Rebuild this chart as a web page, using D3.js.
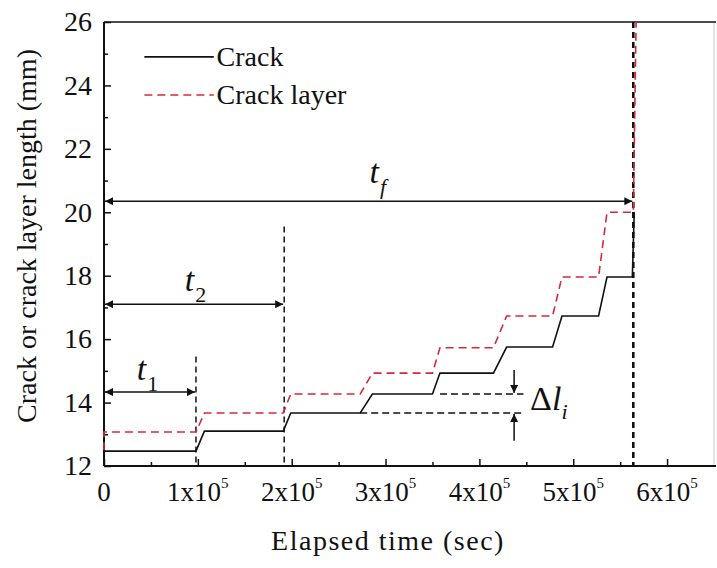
<!DOCTYPE html>
<html>
<head>
<meta charset="utf-8">
<script src="https://cdn.jsdelivr.net/npm/d3@7"></script>
</head>
<body style="margin:0;background:#fff">
<div id="chart"></div>
<script>
// datos (tiempo en unidades de 1e5 s, longitud en mm)
const crackTime = [0, 0.98, 1.07, 1.91, 1.99, 2.73, 2.86, 3.50, 3.58, 4.15, 4.29, 4.78, 4.88, 5.27, 5.36, 5.63, 5.65];
const crackLen  = [12.47, 12.47, 13.10, 13.10, 13.67, 13.67, 14.27, 14.27, 14.93, 14.93, 15.75, 15.75, 16.73, 16.73, 17.96, 17.96, 20.0];

const layerTime = [0, 0, 0.98, 1.07, 1.91, 1.99, 2.73, 2.86, 3.50, 3.58, 4.15, 4.29, 4.78, 4.88, 5.27, 5.36, 5.64, 5.67];
const layerLen  = [12.5, 13.07, 13.07, 13.67, 13.67, 14.27, 14.27, 14.93, 14.93, 15.73, 15.73, 16.73, 16.73, 17.96, 17.96, 20.0, 20.0, 26.0];

const xTicks = [0, 1, 2, 3, 4, 5, 6];
const xMinor = [0.5, 1.5, 2.5, 3.5, 4.5, 5.5];
const yTicks = [12, 14, 16, 18, 20, 22, 24, 26];
const yMinor = [13, 15, 17, 19, 21, 23, 25];

// marcas de tiempo t1, t2, tf
const tMarks = [
  {t: 0.98, top: 15.45, arrowY: 14.33, sub: "1", lx: 0.35, ly: 14.72},
  {t: 1.92, top: 19.55, arrowY: 17.10, sub: "2", lx: 0.86, ly: 17.52},
  {t: 5.64, top: 26.0,  arrowY: 20.35, sub: "f", lx: 2.83, ly: 20.92}
];

// Delta l_i
const deltaUpper = {from: 3.58, to: 4.47, y: 14.27};
const deltaLower = {from: 2.73, to: 4.47, y: 13.67};
const deltaArrowX = 4.37;

const fuente = "'Liberation Serif'";

const margin = {top: 22, right: 3, bottom: 102, left: 104},
  width = 717 - margin.left - margin.right,
  height = 568 - margin.top - margin.bottom;

const svg = d3.select("#chart").append("svg")
  .attr("width", 717).attr("height", 568);

// textos en un grupo aparte, encima de todo
function texto(sel) {
  return sel.attr("font-family", "Liberation Serif")
    .style("font-family", fuente)
    .attr("fill", "#111");
}

const defs = svg.append("defs");
["fin", "ini"].forEach(function (id) {
  defs.append("marker")
    .attr("id", id)
    .attr("viewBox", "0 -5 10 10")
    .attr("refX", 10).attr("refY", 0)
    .attr("markerWidth", 12).attr("markerHeight", 8)
    .attr("markerUnits", "userSpaceOnUse")
    .attr("orient", id === "fin" ? "auto" : "auto-start-reverse")
    .append("path")
    .attr("d", "M0,-5L10,0L0,5Z")
    .attr("fill", "#111");
});

const g = svg.append("g")
  .attr("transform", "translate(" + margin.left + "," + margin.top + ")");

const x = d3.scaleLinear().domain([0, 6.5]).range([0, width]);
const y = d3.scaleLinear().domain([12, 26]).range([height, 0]);

// marco: borde derecho gris y linea superior
g.append("line")
  .attr("x1", width).attr("x2", width).attr("y1", 0).attr("y2", height)
  .attr("stroke", "#ccc").attr("stroke-width", 1);
g.append("line")
  .attr("x1", 0).attr("x2", width + 2).attr("y1", 0).attr("y2", 0)
  .attr("stroke", "#111").attr("stroke-width", 1.6);

// ejes (ticks hacia dentro)
g.append("g")
  .attr("transform", "translate(0," + height + ")")
  .call(d3.axisBottom(x).tickValues(xTicks).tickSize(-7).tickFormat(""))
  .call(a => a.select(".domain").remove());
g.append("g")
  .attr("transform", "translate(0," + height + ")")
  .call(d3.axisBottom(x).tickValues(xMinor).tickSize(-4).tickFormat(""))
  .call(a => a.select(".domain").remove());
g.append("g")
  .call(d3.axisLeft(y).tickValues(yTicks).tickSize(-7).tickFormat(""))
  .call(a => a.select(".domain").remove());
g.append("g")
  .call(d3.axisLeft(y).tickValues(yMinor).tickSize(-4).tickFormat(""))
  .call(a => a.select(".domain").remove());
g.selectAll(".tick line").attr("stroke", "#111").attr("stroke-width", 1.5);
g.selectAll(".tick text").remove();

g.append("line")
  .attr("x1", 0).attr("x2", width + 2).attr("y1", height).attr("y2", height)
  .attr("stroke", "#111").attr("stroke-width", 2);
g.append("line")
  .attr("x1", 0).attr("x2", 0).attr("y1", 0).attr("y2", height)
  .attr("stroke", "#111").attr("stroke-width", 2);

// series
const linea = d3.line().x(d => x(d[0])).y(d => y(d[1]));
const crack = d3.zip(crackTime, crackLen);
const layer = d3.zip(layerTime, layerLen);

// lineas discontinuas de t1, t2 y tf
g.append("g").selectAll("line")
  .data(tMarks).enter().append("line")
  .attr("x1", d => x(d.t)).attr("x2", d => x(d.t))
  .attr("y1", d => y(d.top)).attr("y2", height)
  .attr("stroke", "#111")
  .attr("stroke-width", (d, i) => i === 2 ? 2.6 : 1.5)
  .attr("stroke-dasharray", "6,4");

g.append("path")
  .datum(layer)
  .attr("fill", "none")
  .attr("stroke", "#d42a3c")
  .attr("stroke-width", 1.6)
  .attr("stroke-dasharray", "8,5")
  .attr("d", linea);

g.append("path")
  .datum(crack)
  .attr("fill", "none")
  .attr("stroke", "#111")
  .attr("stroke-width", 1.6)
  .attr("d", linea);

// flechas horizontales
g.append("g").selectAll("line")
  .data(tMarks).enter().append("line")
  .attr("x1", x(0) + 1).attr("x2", d => x(d.t) - 1)
  .attr("y1", d => y(d.arrowY)).attr("y2", d => y(d.arrowY))
  .attr("stroke", "#111").attr("stroke-width", 1.5)
  .attr("marker-start", "url(#ini)")
  .attr("marker-end", "url(#fin)");

// Delta l_i
[deltaUpper, deltaLower].forEach(function (d) {
  g.append("line")
    .attr("x1", x(d.from)).attr("x2", x(d.to))
    .attr("y1", y(d.y)).attr("y2", y(d.y))
    .attr("stroke", "#111").attr("stroke-width", 1.5)
    .attr("stroke-dasharray", "7,4");
});
g.append("line")
  .attr("x1", x(deltaArrowX)).attr("x2", x(deltaArrowX))
  .attr("y1", y(15.03)).attr("y2", y(deltaUpper.y) - 1)
  .attr("stroke", "#111").attr("stroke-width", 1.5)
  .attr("marker-end", "url(#fin)");
g.append("line")
  .attr("x1", x(deltaArrowX)).attr("x2", x(deltaArrowX))
  .attr("y1", y(12.8)).attr("y2", y(deltaLower.y) + 1)
  .attr("stroke", "#111").attr("stroke-width", 1.5)
  .attr("marker-end", "url(#fin)");

// leyenda (lineas)
const leyenda = [
  {label: "Crack", color: "#111", dash: null, yv: 24.9},
  {label: "Crack layer", color: "#d42a3c", dash: "8,5", yv: 23.7}
];
g.append("g").selectAll("line")
  .data(leyenda).enter().append("line")
  .attr("x1", x(0.43)).attr("x2", x(1.17))
  .attr("y1", d => y(d.yv)).attr("y2", d => y(d.yv))
  .attr("stroke", d => d.color).attr("stroke-width", 1.6)
  .attr("stroke-dasharray", d => d.dash);

// ---- textos ----
const tg = svg.append("g")
  .attr("transform", "translate(" + margin.left + "," + margin.top + ")");

// etiquetas eje X con superindice
tg.selectAll(".xl")
  .data(xTicks).enter().append("text")
  .attr("class", "xl")
  .attr("x", d => x(d))
  .attr("y", height + 35)
  .attr("text-anchor", "middle")
  .call(texto)
  .style("font-size", "27px")
  .each(function (d) {
    const t = d3.select(this);
    if (d === 0) { t.text("0"); return; }
    t.append("tspan").text(d + "x10");
    t.append("tspan").attr("dy", -13).style("font-size", "15px").text("5");
  });

// etiquetas eje Y
tg.selectAll(".yl")
  .data(yTicks).enter().append("text")
  .attr("class", "yl")
  .attr("x", -12)
  .attr("y", d => y(d))
  .attr("dy", "0.33em")
  .attr("text-anchor", "end")
  .call(texto)
  .style("font-size", "28px")
  .text(d => d);

// titulos de ejes
tg.append("text")
  .attr("x", width / 2 - 21)
  .attr("y", height + 84)
  .attr("text-anchor", "middle")
  .call(texto)
  .style("font-size", "28px")
  .style("letter-spacing", "1.5px")
  .text("Elapsed time (sec)");
tg.append("text")
  .attr("transform", "rotate(-90)")
  .attr("x", -height / 2 + 8)
  .attr("y", -margin.left + 36)
  .attr("text-anchor", "middle")
  .call(texto)
  .style("font-size", "28px")
  .text("Crack or crack layer length (mm)");

// etiquetas t_i
const tl = tg.selectAll(".tl")
  .data(tMarks).enter().append("text")
  .attr("class", "tl")
  .attr("x", d => x(d.lx))
  .attr("y", d => y(d.ly))
  .call(texto)
  .style("font-style", "italic")
  .style("font-size", "34px");
tl.append("tspan").text("t");
tl.append("tspan")
  .attr("dx", 1).attr("dy", 11)
  .style("font-size", "22px")
  .style("font-style", d => d.sub === "f" ? "italic" : "normal")
  .text(d => d.sub);

const dl = tg.append("text")
  .attr("x", x(4.54))
  .attr("y", y(13.78))
  .call(texto)
  .style("font-size", "34px");
dl.append("tspan").text("\u0394");
dl.append("tspan").style("font-style", "italic").text("l");
dl.append("tspan").attr("dy", 9).style("font-style", "italic").style("font-size", "22px").text("i");

// leyenda (textos)
tg.selectAll(".lt")
  .data(leyenda).enter().append("text")
  .attr("class", "lt")
  .attr("x", x(1.2))
  .attr("y", d => y(d.yv))
  .attr("dy", "0.33em")
  .call(texto)
  .style("font-size", "28px")
  .text(d => d.label);
</script>
</body>
</html>
